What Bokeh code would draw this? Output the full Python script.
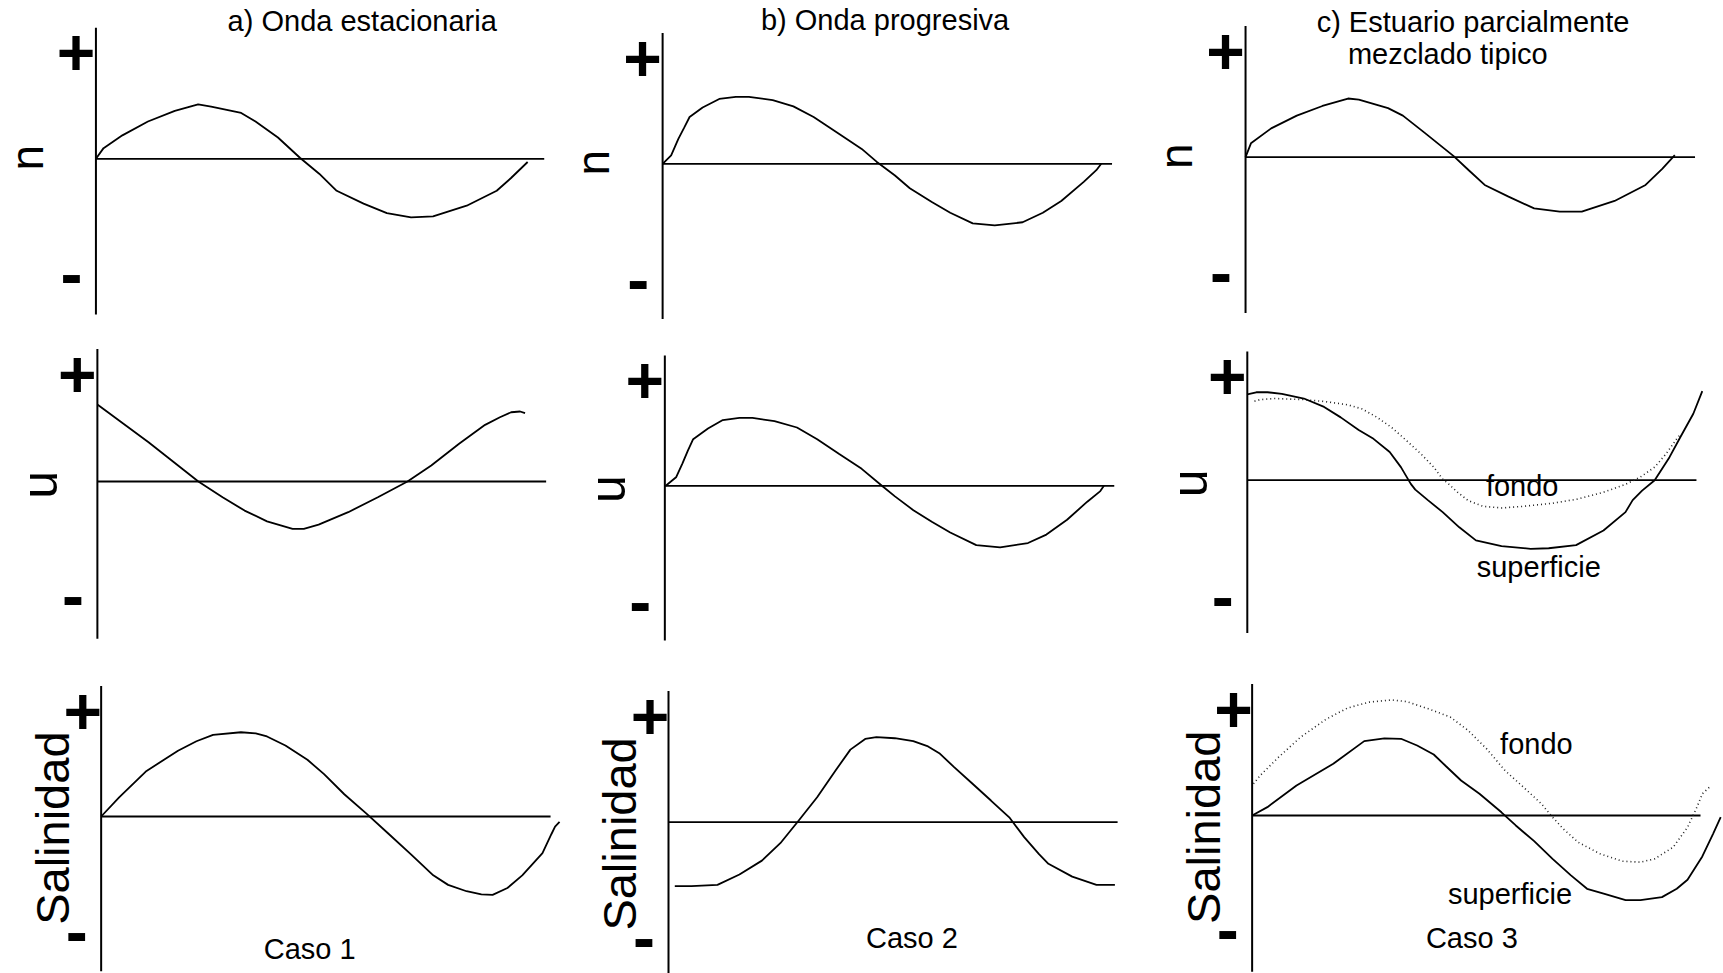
import math
from bokeh.plotting import figure
from bokeh.layouts import gridplot
from bokeh.models import Range1d
from bokeh.core.properties import value
from bokeh.embed import file_html
from bokeh.resources import INLINE

FONT = "Liberation Sans"

# ---------------- data ----------------
# time as a fraction of the drawn cycle (1 = end of the horizontal axis),
# amplitude relative to the "+" level of each panel
titles = ["a) Onda estacionaria", "b) Onda progresiva", "c) Estuario parcialmente", "mezclado tipico"]
variables = ["n", "u", "Salinidad"]
cases = ["Caso 1", "Caso 2", "Caso 3"]
layer_names = ["fondo", "superficie"]

# a) standing wave
a_eta_t = [0.0, 0.017, 0.059, 0.116, 0.176, 0.228, 0.257, 0.324, 0.356, 0.406, 0.455, 0.498, 0.537,
           0.597, 0.649, 0.703, 0.752, 0.827, 0.894, 0.926, 0.963]
a_eta_v = [0.0, 0.10, 0.22, 0.35, 0.45, 0.51, 0.49, 0.43, 0.35, 0.20, 0.01, -0.14, -0.30,
           -0.42, -0.51, -0.55, -0.54, -0.44, -0.30, -0.18, -0.03]
a_u_t = [0.0, 0.114, 0.225, 0.279, 0.328, 0.378, 0.435, 0.460, 0.493, 0.559, 0.625, 0.691, 0.744,
         0.806, 0.864, 0.897, 0.922, 0.942, 0.953]
a_u_v = [0.715, 0.365, 0.0, -0.146, -0.27, -0.37, -0.44, -0.44, -0.40, -0.285, -0.146, 0.0, 0.149,
         0.35, 0.526, 0.597, 0.643, 0.65, 0.634]
a_s_t = [0.0, 0.040, 0.101, 0.171, 0.212, 0.249, 0.311, 0.344, 0.369, 0.410, 0.459, 0.496, 0.541,
         0.591, 0.640, 0.690, 0.739, 0.772, 0.813, 0.846, 0.871, 0.904, 0.937, 0.982, 1.002, 1.010, 1.020]
a_s_v = [0.0, 0.18, 0.43, 0.62, 0.71, 0.77, 0.795, 0.785, 0.755, 0.67, 0.535, 0.40, 0.21,
         0.025, -0.165, -0.36, -0.555, -0.645, -0.705, -0.735, -0.74, -0.675, -0.555, -0.345, -0.165, -0.095, -0.05]

# b) progressive wave
b_eta_t = [0.0, 0.019, 0.035, 0.048, 0.060, 0.089, 0.126, 0.163, 0.192, 0.245, 0.291, 0.336, 0.393, 0.443,
           0.476, 0.517, 0.550, 0.599, 0.640, 0.690, 0.739, 0.801, 0.846, 0.887, 0.937, 0.965, 0.976]
b_eta_v = [0.0, 0.08, 0.235, 0.34, 0.44, 0.53, 0.61, 0.63, 0.63, 0.60, 0.54, 0.44, 0.28, 0.14,
           0.02, -0.11, -0.23, -0.36, -0.46, -0.56, -0.58, -0.55, -0.46, -0.35, -0.17, -0.06, 0.0]
b_u_t = [0.002, 0.025, 0.039, 0.051, 0.063, 0.096, 0.129, 0.166, 0.195, 0.244, 0.294, 0.339, 0.388, 0.438,
         0.483, 0.512, 0.553, 0.594, 0.635, 0.693, 0.746, 0.808, 0.849, 0.895, 0.940, 0.969, 0.977]
b_u_v = [0.0, 0.08, 0.21, 0.33, 0.44, 0.54, 0.62, 0.64, 0.64, 0.61, 0.55, 0.44, 0.30, 0.16,
         0.0, -0.10, -0.23, -0.34, -0.44, -0.56, -0.58, -0.54, -0.46, -0.32, -0.15, -0.05, 0.0]
b_s_t = [0.014, 0.051, 0.109, 0.158, 0.208, 0.249, 0.290, 0.331, 0.372, 0.405, 0.438, 0.463, 0.504,
         0.545, 0.578, 0.603, 0.636, 0.677, 0.718, 0.760, 0.792, 0.825, 0.846, 0.899, 0.953, 0.994]
b_s_v = [-0.60, -0.60, -0.587, -0.49, -0.36, -0.197, 0.016, 0.234, 0.485, 0.68, 0.78, 0.797, 0.787,
         0.76, 0.71, 0.647, 0.516, 0.36, 0.203, 0.04, -0.14, -0.30, -0.39, -0.51, -0.587, -0.587]

# c) partially mixed estuary
c_eta_t = [0.0, 0.012, 0.057, 0.114, 0.171, 0.228, 0.252, 0.317, 0.350, 0.398, 0.463, 0.496, 0.532,
           0.585, 0.642, 0.699, 0.748, 0.821, 0.890, 0.927, 0.955]
c_eta_v = [0.0, 0.13, 0.27, 0.39, 0.48, 0.55, 0.54, 0.46, 0.39, 0.23, 0.01, -0.12, -0.26,
           -0.37, -0.48, -0.51, -0.51, -0.41, -0.26, -0.11, 0.02]
c_u_sup_t = [0.0, 0.020, 0.045, 0.077, 0.126, 0.171, 0.208, 0.248, 0.281, 0.317, 0.342, 0.364, 0.374, 0.402,
             0.435, 0.472, 0.509, 0.566, 0.631, 0.671, 0.732, 0.793, 0.842, 0.858, 0.879, 0.907, 0.940,
             0.964, 0.993, 1.013]
c_u_sup_v = [0.82, 0.84, 0.84, 0.825, 0.78, 0.70, 0.60, 0.48, 0.395, 0.27, 0.125, -0.035, -0.09, -0.19,
             -0.305, -0.45, -0.575, -0.63, -0.655, -0.65, -0.62, -0.48, -0.305, -0.19, -0.10, 0.0, 0.22,
             0.41, 0.635, 0.85]
c_u_fon_t = [0.016, 0.029, 0.061, 0.126, 0.175, 0.224, 0.256, 0.289, 0.321, 0.354, 0.387, 0.415, 0.435, 0.448,
             0.468, 0.492, 0.525, 0.566, 0.614, 0.680, 0.736, 0.793, 0.842, 0.875, 0.907, 0.932, 0.956, 0.963]
c_u_fon_v = [0.755, 0.77, 0.78, 0.77, 0.75, 0.72, 0.68, 0.60, 0.505, 0.38, 0.25, 0.125, 0.01, -0.035,
             -0.115, -0.195, -0.25, -0.265, -0.25, -0.22, -0.18, -0.115, -0.04, 0.03, 0.125, 0.25, 0.395, 0.43]
c_s_sup_t = [0.0, 0.034, 0.099, 0.181, 0.250, 0.295, 0.332, 0.368, 0.405, 0.433, 0.466, 0.507, 0.556, 0.588,
             0.629, 0.670, 0.711, 0.747, 0.784, 0.833, 0.866, 0.914, 0.947, 0.971, 1.004, 1.028, 1.045]
c_s_sup_v = [0.0, 0.078, 0.28, 0.483, 0.695, 0.72, 0.717, 0.654, 0.57, 0.458, 0.327, 0.203, 0.03, -0.093,
             -0.24, -0.405, -0.56, -0.685, -0.73, -0.79, -0.79, -0.763, -0.685, -0.60, -0.383, -0.171, -0.016]
c_s_fon_t = [0.003, 0.018, 0.059, 0.108, 0.165, 0.213, 0.262, 0.311, 0.344, 0.393, 0.442, 0.482, 0.523, 0.564,
             0.605, 0.645, 0.670, 0.694, 0.727, 0.776, 0.825, 0.866, 0.898, 0.939, 0.971, 0.992, 1.004, 1.020]
c_s_fon_v = [0.296, 0.374, 0.545, 0.732, 0.90, 1.005, 1.06, 1.08, 1.065, 0.997, 0.92, 0.794, 0.623, 0.42,
             0.265, 0.11, -0.016, -0.125, -0.25, -0.358, -0.427, -0.436, -0.405, -0.296, -0.11, 0.078, 0.203, 0.265]

# ---------------- layout (positions / styles) ----------------
COL_W = [561, 579, 583]
ROW_H = [330, 330, 313]
# origin x, origin y (page px), px per unit time, px per unit amplitude
GEOM = {
    (0, 0): (95.43, 158.3, 448.3, 106.6),
    (0, 1): (662.12, 163.3, 449.42, 106.3),
    (0, 2): (1245.05, 156.7, 449.48, 106.7),
    (1, 0): (96.88, 481.0, 448.76, 107.7),
    (1, 1): (664.34, 485.3, 449.42, 106.0),
    (1, 2): (1246.80, 479.7, 449.15, 104.7),
    (2, 0): (100.65, 816.0, 449.42, 106.0),
    (2, 1): (668.0, 821.7, 449.09, 106.7),
    (2, 2): (1251.63, 815.0, 448.39, 107.0),
}
MINUS_LEVEL = {(0, 0): -1.12, (0, 1): -1.13, (0, 2): -1.12,
               (1, 0): -1.10, (1, 1): -1.13, (1, 2): -1.15,
               (2, 0): -1.13, (2, 1): -1.125, (2, 2): -1.11}
AXIS_TOP, AXIS_BOT = 1.23, -1.46
VAR_OFF = [-69.4, -57, -49]          # px, middle of the rotated label from the axis
VAR_LEVEL = [0.01, -0.03, -0.11]
VAR_SIZE = ["46px", "50px", "47px"]
TXT = "29px"
SIGN = "66px"

CURVES = {
    (0, 0): [(a_eta_t, a_eta_v, "solid")],
    (1, 0): [(a_u_t, a_u_v, "solid")],
    (2, 0): [(a_s_t, a_s_v, "solid")],
    (0, 1): [(b_eta_t, b_eta_v, "solid")],
    (1, 1): [(b_u_t, b_u_v, "solid")],
    (2, 1): [(b_s_t, b_s_v, "solid")],
    (0, 2): [(c_eta_t, c_eta_v, "solid")],
    (1, 2): [(c_u_fon_t, c_u_fon_v, "dot"), (c_u_sup_t, c_u_sup_v, "solid")],
    (2, 2): [(c_s_fon_t, c_s_fon_v, "dot"), (c_s_sup_t, c_s_sup_v, "solid")],
}
# text positions in panel data units: (text, t, amplitude of text middle)
EXTRA_TEXT = {
    (0, 0): [(titles[0], 0.594, 1.289)],
    (0, 1): [(titles[1], 0.495, 1.353)],
    (0, 2): [(titles[2], 0.506, 1.263), (titles[3], 0.45, 0.967)],
    (1, 2): [(layer_names[0], 0.612, -0.053), (layer_names[1], 0.649, -0.833)],
    (2, 0): [(cases[0], 0.464, -1.247)],
    (2, 1): [(cases[1], 0.542, -1.082)],
    (2, 2): [(layer_names[0], 0.634, 0.671), (layer_names[1], 0.575, -0.731), (cases[2], 0.490, -1.142)],
}


def make_panel(r, c):
    ox, oy, lx, ly = GEOM[(r, c)]
    cl = sum(COL_W[:c])
    ct = sum(ROW_H[:r])
    W, H = COL_W[c], ROW_H[r]
    p = figure(width=W, height=H,
               x_range=Range1d((cl - ox) / lx, (cl + W - ox) / lx),
               y_range=Range1d((oy - ct - H) / ly, (oy - ct) / ly),
               output_backend="svg", toolbar_location=None, min_border=0,
               x_axis_location=None, y_axis_location=None,
               outline_line_color=None, background_fill_color="white",
               border_fill_color="white")
    p.grid.visible = False

    # axes
    p.line([0, 0], [AXIS_TOP, AXIS_BOT], line_color="black", line_width=2)
    p.line([0, 1], [0, 0], line_color="black", line_width=1.8)

    for t, v, style in CURVES[(r, c)]:
        if style == "dot":
            p.line(t, v, line_color="#222222", line_width=1.6, line_dash="1 3")
        else:
            p.line(t, v, line_color="black", line_width=1.8)

    # + and - markers
    plus_dx = (-18.5 if r == 2 else -20) / lx
    p.text(x=[plus_dx], y=[1.0], text=["+"], text_font=value(FONT),
           text_font_style="bold", text_font_size=SIGN, text_align="center",
           text_baseline="middle", text_color="black")
    p.text(x=[-24.5 / lx], y=[MINUS_LEVEL[(r, c)] + 5 / ly], text=["-"], text_font=value(FONT),
           text_font_style="bold", text_font_size=SIGN, text_align="center",
           text_baseline="middle", text_color="black")

    # rotated variable name
    p.text(x=[VAR_OFF[r] / lx], y=[VAR_LEVEL[r]], text=[variables[r]], angle=math.pi / 2,
           text_font=value(FONT), text_font_size=VAR_SIZE[r], text_align="center",
           text_baseline="middle", text_color="black")

    for txt, t, a in EXTRA_TEXT.get((r, c), []):
        p.text(x=[t], y=[a], text=[txt], text_font=value(FONT), text_font_size=TXT,
               text_align="center", text_baseline="middle", text_color="black")
    return p


rows = [[make_panel(r, c) for c in range(3)] for r in range(3)]
grid = gridplot(rows, toolbar_location=None)

open("out.html", "w").write(file_html(grid, INLINE))
